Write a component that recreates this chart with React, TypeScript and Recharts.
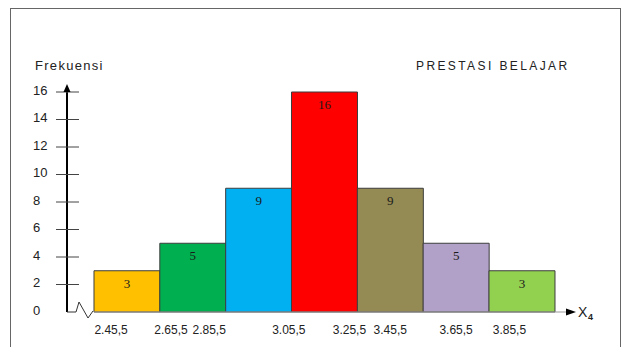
import { BarChart, Bar, XAxis, YAxis, Cell, LabelList } from 'recharts'

// frekuensi per kelas interval (prestasi belajar)
const kelas = ['2.45,5', '2.65,5', '2.85,5', '3.05,5', '3.25,5', '3.45,5', '3.65,5']
const frekuensi = [3, 5, 9, 16, 9, 5, 3]
const yTicks = [0, 2, 4, 6, 8, 10, 12, 14, 16]
const xLabels = ['2.45,5', '2.65,5', '2.85,5', '3.05,5', '3.25,5', '3.45,5', '3.65,5', '3.85,5']
// where the labels sit, in class units along the x scale (they are not at the edges in the source)
const xLabelAt = [0.26, 1.17, 1.75, 2.96, 3.88, 4.5, 5.5, 6.31]

const COLORS = ['#ffc000', '#00b050', '#00b0f0', '#ff0000', '#948a54', '#b1a0c7', '#92d050']
const SANS = '"Liberation Sans", Arial, sans-serif'
const SERIF = '"Liberation Serif", "Times New Roman", serif'

const data = kelas.map((k, i) => ({ kelas: k, mid: i + 0.5, frekuensi: frekuensi[i] }))
const X_DOMAIN: [number, number] = [-0.41, 7.2]

function YTick({ x, y, payload }: any) {
  return (
    <g>
      {payload.value !== 0 && <line x1={x - 11} x2={x + 12} y1={y} y2={y} stroke="#444" />}
      <text x={x - 34} y={y - 2} dy="0.35em" textAnchor="start" fontSize={13} fill="#222" fontFamily={SANS}>
        {payload.value}
      </text>
    </g>
  )
}

export default function App() {
  return (
    <div style={{ position: 'absolute', left: 0, top: 0, width: 630, height: 347, overflow: 'hidden', background: '#fff' }}>
      <div style={{ position: 'absolute', left: 10, top: 8, width: 611, height: 400, border: '1px solid #666', boxSizing: 'border-box' }} />
      <BarChart
        width={630}
        height={347}
        data={data}
        margin={{ top: 92, right: 62, left: 0, bottom: 0 }}
        barCategoryGap={0}
        barGap={0}
        style={{ position: 'absolute', left: 0, top: 0 }}
      >
        <YAxis
          domain={[0, 16]}
          ticks={yTicks}
          width={67}
          tickSize={0}
          tickMargin={0}
          tickLine={false}
          axisLine={{ stroke: '#000', strokeWidth: 2 }}
          tick={<YTick />}
          interval={0}
        />
        <XAxis
          xAxisId="lab"
          type="number"
          dataKey="mid"
          domain={X_DOMAIN}
          allowDataOverflow
          ticks={xLabelAt}
          interval={0}
          tickFormatter={(_v: number, i: number) => xLabels[i]}
          height={35}
          axisLine={false}
          tickLine={false}
          tickSize={0}
          tickMargin={13}
          tick={{ fontSize: 12, fill: '#222', fontFamily: SANS }}
        />
        <XAxis xAxisId="bars" type="number" dataKey="mid" domain={X_DOMAIN} allowDataOverflow hide height={0} />
        <Bar xAxisId="bars" dataKey="frekuensi" stroke="#3d3d3d" strokeWidth={1} isAnimationActive={false}>
          {data.map((d, i) => (
            <Cell key={d.kelas} fill={COLORS[i]} />
          ))}
          <LabelList dataKey="frekuensi" position="insideTop" offset={8} fontSize={13} fill="#1a1a1a" fontFamily={SERIF} />
        </Bar>
      </BarChart>
      <svg width={630} height={347} style={{ position: 'absolute', left: 0, top: 0, pointerEvents: 'none' }}>
        <line x1={67} x2={67} y1={92} y2={88} stroke="#000" strokeWidth={2} />
        <polygon points="67,84 63.5,92 70.5,92" fill="#000" />
        <polyline points="67,312 76,312 79,302 88,318 93,311" fill="none" stroke="#333" strokeWidth={1} />
        <line x1={94} x2={567} y1={312} y2={312} stroke="#999" strokeWidth={1} />
        <polygon points="576,312 566,308.5 566,315.5" fill="#000" />
        <text x={578} y={317} fontSize={14} fill="#222" fontFamily={SANS}>X</text>
        <text x={588} y={320} fontSize={9} fontWeight="bold" fill="#222" fontFamily={SANS}>4</text>
        <text x={35} y={70} fontSize={13} letterSpacing={1.3} fill="#222" fontFamily={SANS}>Frekuensi</text>
        <text x={416} y={70} fontSize={12} letterSpacing={2.4} fill="#222" fontFamily={SANS}>PRESTASI BELAJAR</text>
      </svg>
    </div>
  )
}
